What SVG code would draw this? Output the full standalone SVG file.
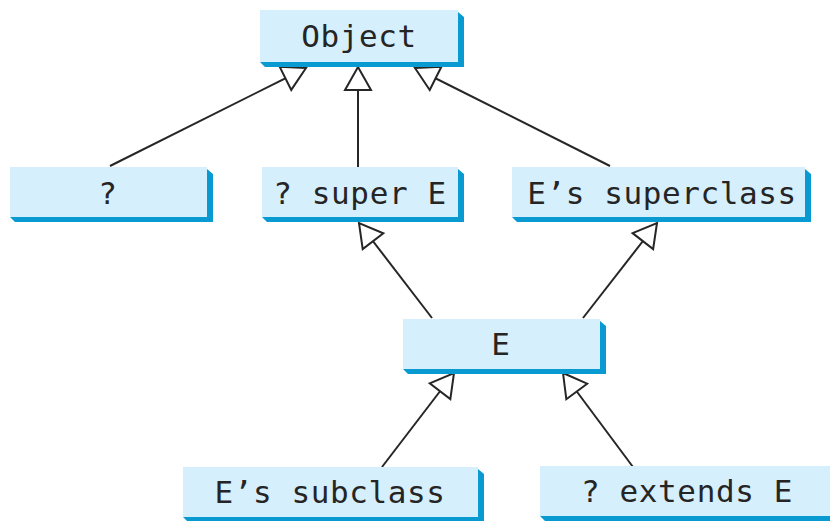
<svg xmlns="http://www.w3.org/2000/svg" width="830" height="521" viewBox="0 0 830 521">
  <style>
    .bg { fill: #ffffff; }
    .box { fill: #d6effc; }
    .shadow { fill: #0a9ad2; }
    .label { font-family: "DejaVu Sans Mono", "Liberation Mono", monospace; font-size: 31px; letter-spacing: 0.6px; fill: #252525; text-anchor: middle; }
    .edge { stroke: #262626; stroke-width: 2; fill: none; marker-end: url(#hollow); }
  </style>
  <defs>
    <!-- UML generalization arrowhead: open (white) triangle -->
    <marker id="hollow" viewBox="-2 -2 27 30" refX="23" refY="13" markerWidth="27" markerHeight="30" markerUnits="userSpaceOnUse" orient="auto" overflow="visible">
      <path d="M0,0 L23,13 L0,26 Z" fill="#ffffff" stroke="#262626" stroke-width="2" stroke-linejoin="miter"/>
    </marker>
  </defs>

  <rect class="bg" x="0" y="0" width="830" height="521"/>

  <g id="connectors">
    <line class="edge" x1="110" y1="166" x2="306" y2="68"/>
    <line class="edge" x1="358" y1="167" x2="358" y2="67"/>
    <line class="edge" x1="610" y1="166" x2="415" y2="68"/>
    <line class="edge" x1="432" y1="318" x2="359" y2="223"/>
    <line class="edge" x1="583" y1="318" x2="657" y2="223"/>
    <line class="edge" x1="382" y1="467" x2="454" y2="373"/>
    <line class="edge" x1="633" y1="467" x2="563" y2="373"/>
  </g>

  <g id="object">
    <polygon class="shadow" points="458,12 464,17 464,67 265,67 260,62 458,62"/>
    <rect class="box" x="260" y="10" width="198" height="52"/>
    <text class="label" x="359" y="47">Object</text>
  </g>

  <g id="wildcard">
    <polygon class="shadow" points="207,169 213,174 213,222 15,222 10,217 207,217"/>
    <rect class="box" x="10" y="167" width="197" height="50"/>
    <text class="label" x="108" y="204">?</text>
  </g>

  <g id="super-e">
    <polygon class="shadow" points="458,169 464,174 464,222 267,222 262,217 458,217"/>
    <rect class="box" x="262" y="167" width="196" height="50"/>
    <text class="label" x="360" y="204">? super E</text>
  </g>

  <g id="e-superclass">
    <polygon class="shadow" points="805,169 811,174 811,222 517,222 512,217 805,217"/>
    <rect class="box" x="512" y="167" width="293" height="50"/>
    <text class="label" x="662" y="204">E’s superclass</text>
  </g>

  <g id="e">
    <polygon class="shadow" points="600,321 606,326 606,374 408,374 403,369 600,369"/>
    <rect class="box" x="403" y="319" width="197" height="50"/>
    <text class="label" x="501" y="355">E</text>
  </g>

  <g id="e-subclass">
    <polygon class="shadow" points="478,469 484,474 484,522 188,522 183,517 478,517"/>
    <rect class="box" x="183" y="467" width="295" height="50"/>
    <text class="label" x="330" y="503">E’s subclass</text>
  </g>

  <g id="extends-e">
    <polygon class="shadow" points="833,468 839,473 839,521 545,521 540,516 833,516"/>
    <rect class="box" x="540" y="466" width="293" height="50"/>
    <text class="label" x="687" y="502">? extends E</text>
  </g>
</svg>
